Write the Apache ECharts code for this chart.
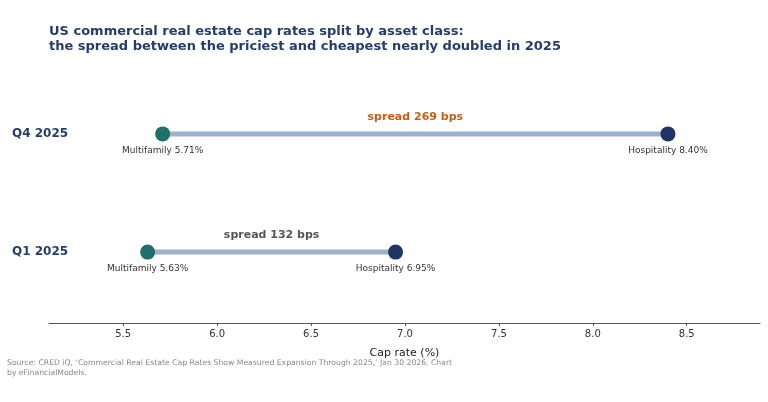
<!DOCTYPE html>
<html>
<head>
<meta charset="utf-8">
<style>
  html, body { margin: 0; padding: 0; background: #fff; }
  #chart { width: 768px; height: 402px; }
</style>
</head>
<body>
<div id="chart"></div>
<script src="https://cdn.jsdelivr.net/npm/echarts@6/dist/echarts.min.js"></script>
<script>
// rows, bottom to top
var periods = ['Q1 2025', 'Q4 2025'];
var multifamily = [5.63, 5.71];
var hospitality = [6.95, 8.40];
var spreadBps = [132, 269];
var spreadColors = ['#555555', '#cc5c14'];
var xTicks = [5.5, 6.0, 6.5, 7.0, 7.5, 8.0, 8.5];

var chart = echarts.init(document.getElementById('chart'));
var font = 'DejaVu Sans';

var series = [];
periods.forEach(function (p, i) {
  // connector
  series.push({
    type: 'line',
    data: [[multifamily[i], i], [hospitality[i], i]],
    showSymbol: false,
    symbol: 'none',
    lineStyle: { color: '#9bb1cd', width: 5 },
    silent: true,
    z: 1
  });
  // spread label at the midpoint
  series.push({
    type: 'scatter',
    data: [[(multifamily[i] + hospitality[i]) / 2, i]],
    symbolSize: 0,
    itemStyle: { opacity: 1 },
    label: {
      show: true,
      position: 'top',
      distance: 11,
      formatter: 'spread ' + spreadBps[i] + ' bps',
      color: spreadColors[i],
      fontFamily: font,
      fontWeight: 'bold',
      fontSize: 11
    },
    z: 3
  });
});

// dots
series.push({
  type: 'scatter',
  data: multifamily.map(function (v, i) { return [v, i]; }),
  symbolSize: 15,
  itemStyle: { color: '#1f6f6a', opacity: 1 },
  label: {
    show: true,
    position: 'bottom',
    distance: 5,
    formatter: function (d) { return 'Multifamily ' + d.value[0].toFixed(2) + '%'; },
    color: '#333',
    fontFamily: font,
    fontSize: 9
  },
  z: 4
});
series.push({
  type: 'scatter',
  data: hospitality.map(function (v, i) { return [v, i]; }),
  symbolSize: 15,
  itemStyle: { color: '#1f3563', opacity: 1 },
  label: {
    show: true,
    position: 'bottom',
    distance: 5,
    formatter: function (d) { return 'Hospitality ' + d.value[0].toFixed(2) + '%'; },
    color: '#333',
    fontFamily: font,
    fontSize: 9
  },
  z: 4
});

var option = {
  backgroundColor: '#fff',
  animation: false,
  title: {
    text: 'US commercial real estate cap rates split by asset class:\nthe spread between the priciest and cheapest nearly doubled in 2025',
    left: 44,
    top: 19,
    textStyle: {
      color: '#253d6b',
      fontFamily: font,
      fontWeight: 'bold',
      fontSize: 13,
      lineHeight: 15
    }
  },
  graphic: [{
    type: 'text',
    left: 7,
    top: 358,
    style: {
      text: 'Source: CRED iQ, \u2018Commercial Real Estate Cap Rates Show Measured Expansion Through 2025,\u2019 Jan 30 2026. Chart\nby eFinancialModels.',
      fill: '#888',
      font: '7.7px "DejaVu Sans"',
      lineHeight: 10
    }
  }],
  grid: { left: 49, right: 8, top: 63, bottom: 79, containLabel: false },
  xAxis: {
    type: 'value',
    min: 5.105,
    max: 8.89,
    name: 'Cap rate (%)',
    nameLocation: 'middle',
    nameGap: 25,
    nameTextStyle: { color: '#222', fontFamily: font, fontSize: 11 },
    axisLine: { show: true, onZero: false, lineStyle: { color: '#555', width: 1 } },
    axisTick: { show: true, customValues: xTicks, length: 3, lineStyle: { color: '#555' } },
    axisLabel: {
      customValues: xTicks,
      formatter: function (v) { return v.toFixed(1); },
      color: '#333',
      fontFamily: font,
      fontSize: 10,
      margin: 6
    },
    splitLine: { show: false }
  },
  yAxis: {
    type: 'value',
    min: -0.6,
    max: 1.6,
    axisLine: { show: false },
    axisTick: { show: false },
    splitLine: { show: false },
    axisLabel: {
      customValues: [0, 1],
      formatter: function (v) { return periods[Math.round(v)]; },
      align: 'left',
      margin: 37,
      color: '#253d6b',
      fontFamily: font,
      fontWeight: 'bold',
      fontSize: 12
    }
  },
  series: series
};

chart.setOption(option);
</script>
</body>
</html>
